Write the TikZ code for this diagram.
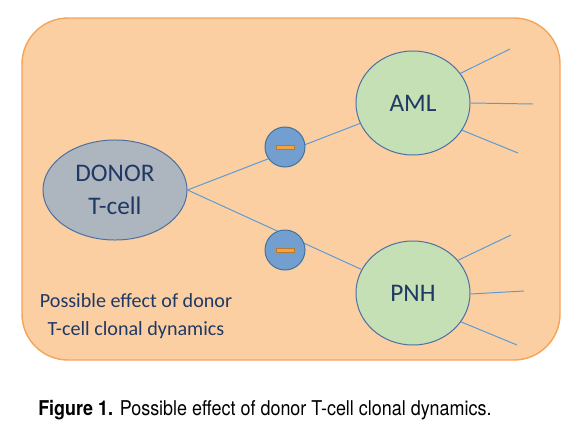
\documentclass[tikz,border=0pt]{standalone}
\usepackage{fontspec}
\setmainfont{Carlito}
\newfontfamily\capfont[FakeStretch=0.88]{TeX Gyre Heros}
\usetikzlibrary{shapes.geometric}
\definecolor{boxfill}{HTML}{FCCFA2}
\definecolor{boxline}{HTML}{F5A55A}
\definecolor{donorfill}{HTML}{ADB5BF}
\definecolor{cellline}{HTML}{4A6FA5}
\definecolor{cellfill}{HTML}{C5E0B4}
\definecolor{minusfill}{HTML}{729FCF}
\definecolor{minusline}{HTML}{41719C}
\definecolor{barfill}{HTML}{F4A43C}
\definecolor{barline}{HTML}{B87830}
\definecolor{wire}{HTML}{5B9BD5}
\definecolor{navy}{HTML}{1F3864}
\tikzset{
  cell/.style={ellipse, draw=cellline, line width=0.7pt, inner sep=0pt,
    text=navy, font=\fontsize{18}{23}\selectfont, align=center},
  minus/.style={circle, draw=minusline, fill=minusfill, line width=0.7pt,
    minimum size=1cm, inner sep=0pt,
    path picture={\draw[draw=barline, fill=barfill, line width=0.4pt]
      ([xshift=-2.3mm,yshift=-0.55mm]path picture bounding box.center)
      rectangle ++(4.6mm,1.1mm);}},
  wire/.style={draw=wire, line width=0.7pt}
}
\begin{document}
\begin{tikzpicture}[x=0.025cm,y=-0.025cm]
  \useasboundingbox (0,0) rectangle (568,434);
  \fill[white] (0,0) rectangle (568,434);
  % panel
  \draw[fill=boxfill, draw=boxline, line width=1pt, rounded corners=1.15cm]
    (22,18) rectangle (560,360);
  % cells
  \node[cell, fill=donorfill, minimum width=3.6cm, minimum height=2.5cm]
    (donor) at (115,190) {DONOR\\T-cell};
  \node[cell, fill=cellfill, minimum width=2.85cm, minimum height=2.6cm]
    (aml) at (413,103) {AML};
  \node[cell, fill=cellfill, minimum width=2.85cm, minimum height=2.6cm]
    (pnh) at (413,293) {PNH};
  % free ends
  \coordinate (a1) at (510,49);
  \coordinate (a2) at (533,104);
  \coordinate (a3) at (518,153);
  \coordinate (p1) at (511,235);
  \coordinate (p2) at (524,291);
  \coordinate (p3) at (517,345);
  \begin{scope}[wire]
    \draw (donor.east) -- (aml);
    \draw (donor.east) -- (pnh);
    \draw (aml.32) -- (a1);
    \draw (aml.0) -- (a2);
    \draw (aml.-29) -- (a3);
    \draw (pnh.36) -- (p1);
    \draw (pnh.-1) -- (p2);
    \draw (pnh.-31) -- (p3);
  \end{scope}
  % inhibition marks
  \node[minus] (minusaml) at (285,147) {};
  \node[minus] (minuspnh) at (285,250) {};
  % texts
  \node[text=navy, font=\fontsize{14.3}{19.5}\selectfont, align=center]
    (note) at (136,316) {Possible effect of donor\\T-cell clonal dynamics};
  \node[anchor=west, font=\capfont\fontsize{14.5}{16}\selectfont, inner sep=0pt]
    (caption) at (38,410) {\textbf{Figure 1.} Possible effect of donor T-cell clonal dynamics.};
\end{tikzpicture}
\end{document}
